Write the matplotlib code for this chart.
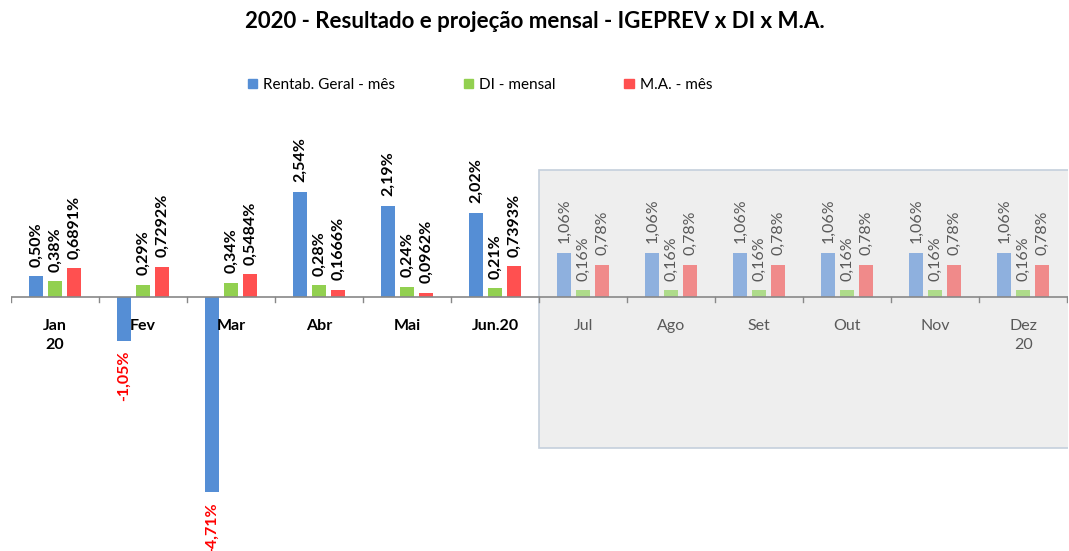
import numpy as np
import matplotlib
matplotlib.use("Agg")
import matplotlib.pyplot as plt
from matplotlib.patches import Rectangle

plt.rcParams['font.family'] = ['Lato', 'DejaVu Sans']

months = ["Jan\n20", "Fev", "Mar", "Abr", "Mai", "Jun.20",
          "Jul", "Ago", "Set", "Out", "Nov", "Dez\n20"]
rentab = [0.50, -1.05, -4.71, 2.54, 2.19, 2.02, 1.06, 1.06, 1.06, 1.06, 1.06, 1.06]
di = [0.38, 0.29, 0.34, 0.28, 0.24, 0.21, 0.16, 0.16, 0.16, 0.16, 0.16, 0.16]
ma = [0.6891, 0.7292, 0.5484, 0.1666, 0.0962, 0.7393, 0.78, 0.78, 0.78, 0.78, 0.78, 0.78]
rentab_lbl = ["0,50%", "-1,05%", "-4,71%", "2,54%", "2,19%", "2,02%"] + ["1,06%"] * 6
di_lbl = ["0,38%", "0,29%", "0,34%", "0,28%", "0,24%", "0,21%"] + ["0,16%"] * 6
ma_lbl = ["0,6891%", "0,7292%", "0,5484%", "0,1666%", "0,0962%", "0,7393%"] + ["0,78%"] * 6
n_real = 6  # months with actual results, rest are projections

x = np.arange(len(months), dtype=float)
ppy = 41.5  # pixels per 1% on the y axis

fig = plt.figure(figsize=(10.69, 5.51), dpi=100)
ax = fig.add_axes([11 / 1069, 0, 1057 / 1069, 441 / 551])
ax.set_xlim(-0.5, 11.51)
ax.set_ylim(-(551 - 297) / ppy, (297 - 110) / ppy)

# shaded projection area
ax.add_patch(Rectangle((5.5, -(448 - 297) / ppy), 7, (448 - 170) / ppy,
                       facecolor="#eeeeee", edgecolor="#c5cfdc", lw=1.2, zorder=0))

w = 0.16
off = 0.215
real_cols = ["#558ed5", "#92d050", "#ff5050"]
proj_cols = ["#8eb0de", "#aedb8a", "#f08a8a"]
series = [rentab, di, ma]
labels = [rentab_lbl, di_lbl, ma_lbl]
names = ["Rentab. Geral - mês", "DI - mensal", "M.A. - mês"]

for k in range(3):
    cols = [real_cols[k] if i < n_real else proj_cols[k] for i in range(len(months))]
    ax.bar(x + (k - 1) * off, series[k], width=w, color=cols, zorder=2,
           label=names[k])
    for i in range(len(months)):
        v = series[k][i]
        real = i < n_real
        if v >= 0:
            ax.annotate(labels[k][i], (x[i] + (k - 1) * off, v), xytext=(0, 7),
                        textcoords="offset points", rotation=90, ha="center", va="bottom",
                        fontsize=11.5, fontweight="bold" if real else "normal",
                        color="black" if real else "#595959", zorder=3)
        else:
            ax.annotate(labels[k][i], (x[i] + (k - 1) * off, v), xytext=(0, -7),
                        textcoords="offset points", rotation=90, ha="center", va="top",
                        fontsize=11.5, fontweight="bold", color="#ff0000", zorder=3)

ax.axhline(0, color="#888888", lw=1.2, zorder=2.5)
for s in ["top", "right", "left", "bottom"]:
    ax.spines[s].set_visible(False)
ax.set_yticks([])
ax.set_xticks([])

# category boundary ticks
for b in np.arange(len(months) + 1) - 0.5:
    ax.plot([b, b], [0, -5 / ppy], color="#888888", lw=1, zorder=2.5)

for i, m in enumerate(months):
    real = i < n_real
    ax.annotate(m, (x[i], 0), xytext=(0, -16), textcoords="offset points",
                ha="center", va="top", fontsize=11.5, linespacing=1.4,
                fontweight="bold" if real else "normal",
                color="black" if real else "#595959")

fig.text(0.5, 1 - 22 / 551, "2020 - Resultado e projeção mensal - IGEPREV x DI x M.A.",
         ha="center", va="center", fontsize=16, fontweight="bold")

leg = fig.legend(*ax.get_legend_handles_labels(), loc="center", ncol=3,
                 bbox_to_anchor=(480 / 1069, 1 - 85 / 551), frameon=False,
                 fontsize=11, handlelength=0.6, handleheight=0.6, columnspacing=4.5,
                 handletextpad=0.4)
for h, c in zip(leg.legend_handles, real_cols):
    h.set_color(c)

fig.savefig("out.png", dpi=100)
